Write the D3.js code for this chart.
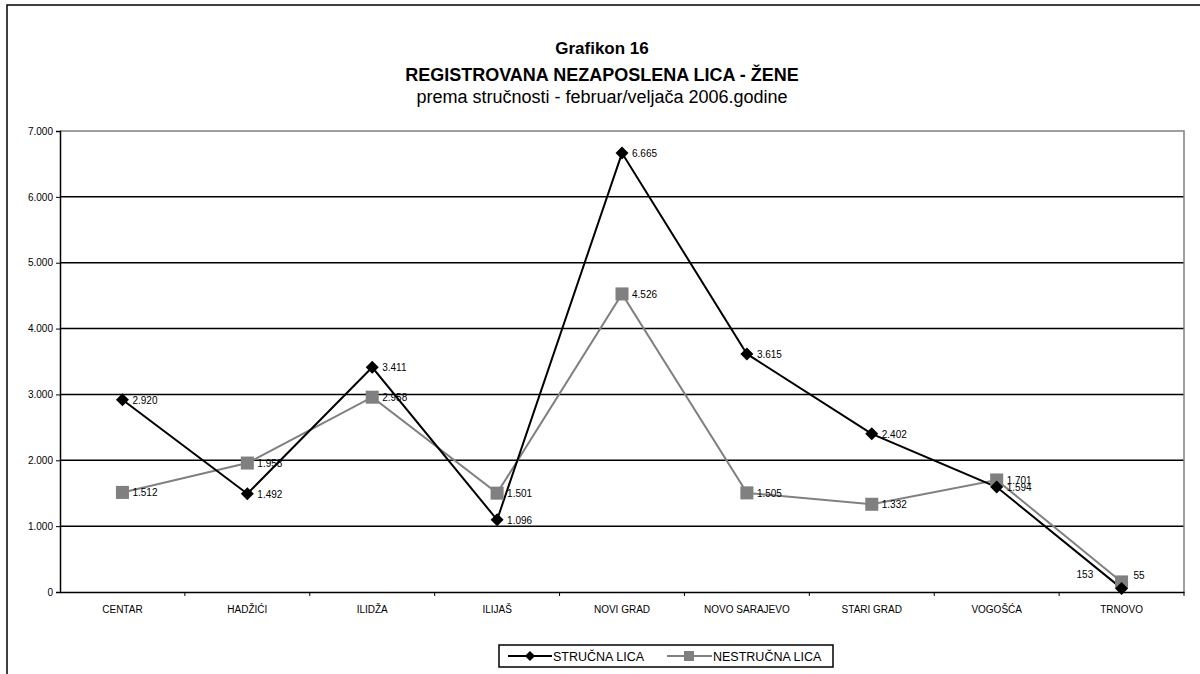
<!DOCTYPE html>
<html>
<head>
<meta charset="utf-8">
<script src="https://cdn.jsdelivr.net/npm/d3@7"></script>
<style>
  html, body { margin: 0; padding: 0; background: #fff; }
  svg { display: block; font-family: "Liberation Sans", Arial, sans-serif; }
</style>
</head>
<body>
<div id="chart"></div>
<script>
// Grafikon 16: nezaposlena lica - žene, po općinama
const categories = ['CENTAR', 'HADŽIĆI', 'ILIDŽA', 'ILIJAŠ', 'NOVI GRAD', 'NOVO SARAJEVO', 'STARI GRAD', 'VOGOŠĆA', 'TRNOVO'];
const strucnaLica = [2920, 1492, 3411, 1096, 6665, 3615, 2402, 1594, 55];
const nestrucnaLica = [1512, 1958, 2958, 1501, 4526, 1505, 1332, 1701, 153];
const yTicks = [0, 1000, 2000, 3000, 4000, 5000, 6000, 7000];

(function () {
  const width = 1200, height = 674;
  const fmt = v => v >= 1000 ? d3.format(',')(v).replace(/,/g, '.') : String(v);
  const font = '"Liberation Sans", Arial, sans-serif';

  const svg = d3.select('#chart').append('svg').attr('width', width).attr('height', height);

  // okvir grafikona
  svg.append('rect').attr('x', 7).attr('y', 5).attr('width', 1205).attr('height', 700)
    .attr('fill', 'none').attr('stroke', '#000').attr('stroke-width', 1.5);

  // naslovi
  svg.append('text').attr('x', 602).attr('y', 54).attr('text-anchor', 'middle')
    .style('font-weight', 'bold').style('font-size', '17px').text('Grafikon 16');
  svg.append('text').attr('x', 602).attr('y', 81).attr('text-anchor', 'middle')
    .style('font-weight', 'bold').style('font-size', '18px').text('REGISTROVANA NEZAPOSLENA LICA - ŽENE');
  svg.append('text').attr('x', 602).attr('y', 103).attr('text-anchor', 'middle')
    .style('font-size', '18px').text('prema stručnosti - februar/veljača 2006.godine');

  const margin = { left: 60, right: 1184, top: 131, bottom: 592 };
  const x = d3.scaleBand().domain(categories).range([margin.left, margin.right]);
  const y = d3.scaleLinear().domain([0, 7000]).range([margin.bottom, margin.top]);
  const cx = c => x(c) + x.bandwidth() / 2;

  // mreža
  svg.append('g').selectAll('line').data(yTicks.filter(t => t > 0 && t < 7000)).join('line')
    .attr('x1', margin.left).attr('x2', margin.right)
    .attr('y1', d => y(d)).attr('y2', d => y(d))
    .attr('stroke', '#000').attr('stroke-width', 1.5);

  // okvir plot područja (siv)
  svg.append('path')
    .attr('d', `M${margin.left},${y(7000)}H${margin.right}V${margin.bottom}`)
    .attr('fill', 'none').attr('stroke', '#808080').attr('stroke-width', 1.5);

  // osa Y
  const yAxis = svg.append('g').attr('transform', `translate(${margin.left},0)`)
    .call(d3.axisLeft(y).tickValues(yTicks).tickSize(4).tickFormat(fmt));
  yAxis.select('.domain').attr('stroke', '#000').attr('stroke-width', 1.5);
  yAxis.selectAll('.tick line').attr('stroke', '#000');
  yAxis.selectAll('.tick text').style('font-size', '10px').style('font-family', font).attr('x', -7);

  // osa X
  const xAxis = svg.append('g').attr('transform', `translate(0,${margin.bottom})`)
    .call(d3.axisBottom(x).tickSize(0).tickPadding(14));
  xAxis.select('.domain').attr('stroke', '#000').attr('stroke-width', 1.5);
  xAxis.selectAll('.tick text').style('font-size', '10px').style('font-family', font);
  svg.append('g').selectAll('line').data(categories).join('line')
    .attr('x1', d => x(d) + x.bandwidth()).attr('x2', d => x(d) + x.bandwidth())
    .attr('y1', margin.bottom).attr('y2', margin.bottom + 4)
    .attr('stroke', '#000');

  const line = d3.line().x((d, i) => cx(categories[i])).y(d => y(d));

  // nestručna lica
  svg.append('path').datum(nestrucnaLica).attr('d', line)
    .attr('fill', 'none').attr('stroke', '#808080').attr('stroke-width', 2);
  // stručna lica
  svg.append('path').datum(strucnaLica).attr('d', line)
    .attr('fill', 'none').attr('stroke', '#000').attr('stroke-width', 2);

  const square = d3.symbol().type(d3.symbolSquare).size(170);
  const diamond = (px, py, r) => `M${px},${py - r}L${px + r},${py}L${px},${py + r}L${px - r},${py}Z`;

  svg.append('g').selectAll('path').data(nestrucnaLica).join('path')
    .attr('d', square)
    .attr('transform', (d, i) => `translate(${cx(categories[i])},${y(d)})`)
    .attr('fill', '#808080');
  svg.append('g').selectAll('path').data(strucnaLica).join('path')
    .attr('d', (d, i) => diamond(cx(categories[i]), y(d), 6.5))
    .attr('fill', '#000');

  // oznake vrijednosti
  const labelStyle = sel => sel.style('font-size', '10px').attr('fill', '#000');
  const last = categories.length - 1;
  svg.append('g').selectAll('text').data(nestrucnaLica).join('text')
    .attr('x', (d, i) => i === last ? cx(categories[i]) - 45 : cx(categories[i]) + 10)
    .attr('y', (d, i) => i === last ? y(d) - 4 : y(d) + 4)
    .call(labelStyle).text(fmt);
  svg.append('g').selectAll('text').data(strucnaLica).join('text')
    .attr('x', (d, i) => i === last ? cx(categories[i]) + 12 : cx(categories[i]) + 10)
    .attr('y', (d, i) => i === last ? y(d) - 9 : y(d) + 4)
    .call(labelStyle).text(fmt);

  // legenda
  const lg = svg.append('g');
  lg.append('rect').attr('x', 499).attr('y', 645).attr('width', 334).attr('height', 22)
    .attr('fill', '#fff').attr('stroke', '#000').attr('stroke-width', 1.5);
  lg.append('line').attr('x1', 508).attr('x2', 552).attr('y1', 656).attr('y2', 656)
    .attr('stroke', '#000').attr('stroke-width', 2);
  lg.append('path').attr('d', diamond(530, 656, 5)).attr('fill', '#000');
  lg.append('text').attr('x', 553).attr('y', 660.5).style('font-size', '12.5px').text('STRUČNA LICA');
  lg.append('line').attr('x1', 667).attr('x2', 712).attr('y1', 656).attr('y2', 656)
    .attr('stroke', '#808080').attr('stroke-width', 2);
  lg.append('rect').attr('x', 684).attr('y', 651).attr('width', 10).attr('height', 10).attr('fill', '#808080');
  lg.append('text').attr('x', 713).attr('y', 660.5).style('font-size', '12.5px').text('NESTRUČNA LICA');
})();
</script>
</body>
</html>
